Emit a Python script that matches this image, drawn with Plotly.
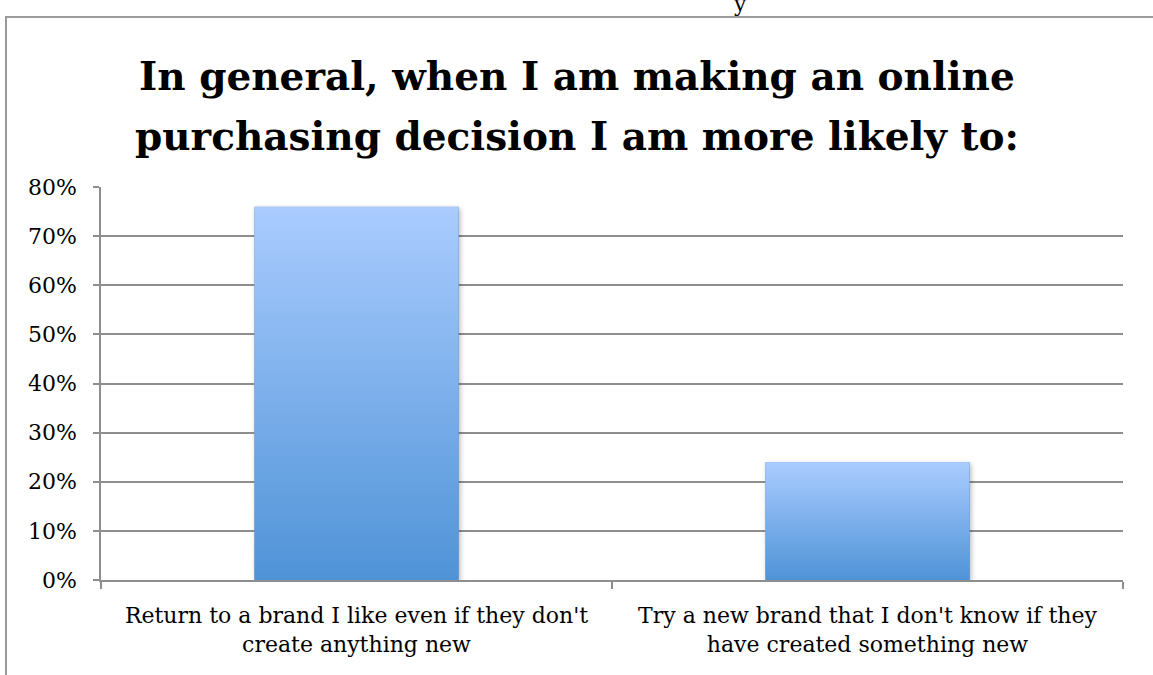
import base64
import plotly.graph_objects as go

# Survey answers and shares of respondents
categories = [
    "Return to a brand I like even if they don't<br>create anything new",
    "Try a new brand that I don't know if they<br>have created something new",
]
shares = [0.76, 0.24]
y_ticks = [0.0, 0.1, 0.2, 0.3, 0.4, 0.5, 0.6, 0.7, 0.8]
y_tick_text = ["0%", "10%", "20%", "30%", "40%", "50%", "60%", "70%", "80%"]

TITLE_LINES = [
    "In general, when I am making an online",
    "purchasing decision I am more likely to:",
]

W, H = 1153, 675
ML, MR, MT, MB = 101, 30, 187, 95
PW, PH = W - ML - MR, H - MT - MB
Y_MAX = 0.8
BAR_W = 0.4
SERIF = "DejaVu Serif, Liberation Serif, serif"
GRID = "#8e8e8e"

# pixels per axis unit
UX = PW / len(categories)
UY = PH / Y_MAX


def px_x(px):
    return (px - ML) / PW


def px_y(py):
    return 1 - (py - MT) / PH


def svg_src(svg):
    return "data:image/svg+xml;base64," + base64.b64encode(svg.encode()).decode()


# vertical blue gradient used as the bar fill
grad_src = svg_src(
    '<svg xmlns="http://www.w3.org/2000/svg" width="100" height="100" '
    'viewBox="0 0 100 100" preserveAspectRatio="none">'
    '<defs><linearGradient id="g" x1="0" y1="0" x2="0" y2="1">'
    '<stop offset="0" stop-color="#AACCFF"/>'
    '<stop offset="1" stop-color="#4F93D7"/>'
    '</linearGradient></defs>'
    '<rect width="100" height="100" fill="url(#g)"/></svg>'
)


def shadow_src(bw, bh, pad):
    w, h = bw + 2 * pad, bh + 2 * pad
    return svg_src(
        f'<svg xmlns="http://www.w3.org/2000/svg" width="{w:.1f}" height="{h:.1f}" '
        f'viewBox="0 0 {w:.1f} {h:.1f}" preserveAspectRatio="none">'
        '<defs><filter id="b" x="-20%" y="-20%" width="140%" height="140%">'
        '<feGaussianBlur stdDeviation="2.5"/></filter></defs>'
        f'<rect x="{pad + 1.5:.1f}" y="{pad + 2:.1f}" width="{bw:.1f}" height="{bh:.1f}" '
        'fill="#000" fill-opacity="0.28" filter="url(#b)"/></svg>'
    )


fig = go.Figure(
    go.Bar(
        x=list(range(len(categories))),
        y=shares,
        width=BAR_W,
        marker=dict(color="#7DAFEA", line=dict(width=0)),
        hoverinfo="skip",
    )
)

PAD = 10
images = []
for i, v in enumerate(shares):
    bw, bh = BAR_W * UX, v * UY
    images.append(dict(
        source=shadow_src(bw, bh, PAD), xref="x", yref="y",
        x=i - BAR_W / 2 - PAD / UX, y=v + PAD / UY,
        sizex=BAR_W + 2 * PAD / UX, sizey=v + 2 * PAD / UY,
        sizing="stretch", xanchor="left", yanchor="top", layer="above",
    ))
for i, v in enumerate(shares):
    images.append(dict(
        source=grad_src, xref="x", yref="y",
        x=i - BAR_W / 2, y=v, sizex=BAR_W, sizey=v,
        sizing="stretch", xanchor="left", yanchor="top", layer="above",
    ))

FRAME_Y = 17
shapes = [
    # page frame on the left and top
    dict(type="line", xref="paper", yref="paper",
         x0=px_x(6), x1=px_x(6), y0=px_y(FRAME_Y), y1=px_y(H + 5),
         line=dict(color="#9a9a9a", width=2)),
    dict(type="line", xref="paper", yref="paper",
         x0=px_x(5), x1=px_x(W + 5), y0=px_y(FRAME_Y), y1=px_y(FRAME_Y),
         line=dict(color="#9a9a9a", width=2)),
]

annotations = [
    dict(text="y", xref="paper", yref="paper", x=px_x(740), y=px_y(FRAME_Y + 1),
         xanchor="center", yanchor="bottom", showarrow=False,
         font=dict(family=SERIF, size=22, color="#000")),
]
# two-line bold heading, one annotation per line
for line, cy in zip(TITLE_LINES, (76, 136)):
    annotations.append(dict(
        text="<b>" + line + "</b>", xref="paper", yref="paper",
        x=px_x(W / 2), y=px_y(cy), xanchor="center", yanchor="middle",
        showarrow=False, font=dict(family=SERIF, size=39, color="#000"),
    ))

fig.update_layout(
    width=W, height=H,
    margin=dict(l=ML, r=MR, t=MT, b=MB, pad=0),
    paper_bgcolor="white", plot_bgcolor="white",
    showlegend=False,
    bargap=0.6,
    xaxis=dict(
        type="category",
        tickvals=[0, 1], ticktext=categories,
        range=[-0.5, 1.5],
        tickson="boundaries",
        ticks="outside", ticklen=7, tickcolor=GRID, tickwidth=1.5,
        showline=True, linecolor=GRID, linewidth=1.5,
        showgrid=False, zeroline=False,
        tickfont=dict(family=SERIF, size=22, color="#000"),
        ticklabelstandoff=15,
    ),
    yaxis=dict(
        range=[0, Y_MAX],
        tickvals=y_ticks, ticktext=y_tick_text,
        ticks="outside", ticklen=6, tickcolor=GRID, tickwidth=1.5,
        showline=True, linecolor=GRID, linewidth=1.5,
        showgrid=True, gridcolor=GRID, gridwidth=1.5,
        zeroline=False,
        tickfont=dict(family=SERIF, size=22, color="#000"),
        ticklabelstandoff=12,
    ),
    images=images,
    shapes=shapes,
    annotations=annotations,
)

fig.write_html("out.html")
